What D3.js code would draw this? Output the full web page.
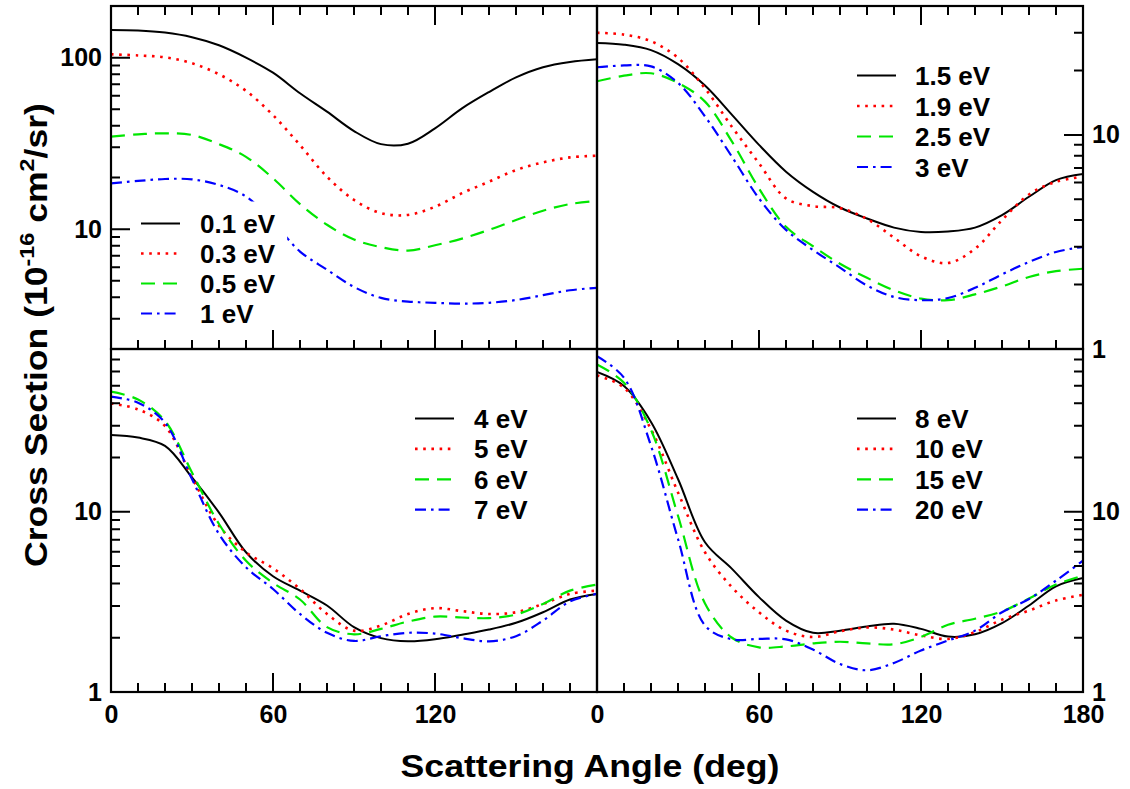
<!DOCTYPE html>
<html>
<head>
<meta charset="utf-8">
<script src="https://cdn.jsdelivr.net/npm/d3@7"></script>
<style>
  html, body { margin: 0; padding: 0; background: #fff; }
  svg { display: block; }
  text { font-family: "Liberation Sans", Arial, Helvetica, sans-serif; font-weight: bold; fill: #000; }
</style>
</head>
<body>
<svg id="chart" width="1130" height="789"></svg>
<script>
// Scattering angles (deg) at which every curve is tabulated
const angles = [0, 10, 20, 30, 40, 50, 60, 70, 80, 90, 100, 110, 120, 130, 140, 150, 160, 170, 180];

// Differential cross sections (10^-16 cm^2/sr)
// Panel a: low energies
const namesA = ["0.1 eV", "0.3 eV", "0.5 eV", "1 eV"];
const cs_0p1 = [145, 144, 140, 131.5, 118, 100, 81.7, 62, 48.4, 37.3, 31.3, 31.5, 38.7, 50.6, 63, 76.7, 87.9, 94.3, 97.8];
const cs_0p3 = [104.6, 103, 100.4, 92.7, 80, 64, 46.2, 30.9, 20.2, 14.8, 12.4, 12.1, 13.5, 16.2, 18.9, 22.1, 24.5, 26.2, 26.8];
const cs_0p5 = [34.6, 35.7, 36.2, 35.4, 31.3, 26.4, 19.8, 14.0, 10.6, 8.7, 7.85, 7.5, 8.05, 8.8, 9.9, 11.3, 12.8, 14.0, 14.6];
const cs_1   = [18.5, 19.1, 19.6, 19.5, 18.1, 15.5, 11.0, 7.4, 5.8, 4.6, 3.97, 3.78, 3.72, 3.68, 3.72, 3.86, 4.12, 4.4, 4.55];

// Panel b
const namesB = ["1.5 eV", "1.9 eV", "2.5 eV", "3 eV"];
const cs_1p5 = [26.9, 26.4, 24.9, 21.4, 17.0, 12.4, 8.98, 6.73, 5.42, 4.58, 4.07, 3.69, 3.52, 3.54, 3.69, 4.22, 5.14, 6.15, 6.57];
const cs_1p9 = [30, 29.4, 27.4, 22.9, 16.5, 10.9, 7.37, 5.05, 4.65, 4.55, 4.05, 3.31, 2.71, 2.52, 2.94, 4.0, 5.27, 6.04, 6.38];
const cs_2p5 = [17.8, 18.9, 19.4, 17.5, 14.3, 9.3, 5.62, 3.72, 3.02, 2.5, 2.15, 1.88, 1.72, 1.69, 1.80, 1.96, 2.17, 2.31, 2.37];
const cs_3   = [20.7, 21.1, 20.9, 17.5, 12.2, 7.9, 5.05, 3.6, 2.9, 2.4, 1.98, 1.75, 1.69, 1.73, 1.93, 2.23, 2.55, 2.84, 3.0];

// Panel c
const namesC = ["4 eV", "5 eV", "6 eV", "7 eV"];
const cs_4 = [26.7, 25.8, 23.2, 15.5, 9.9, 5.96, 4.39, 3.65, 3.02, 2.29, 1.99, 1.91, 1.96, 2.08, 2.22, 2.42, 2.77, 3.26, 3.5];
const cs_5 = [39.9, 37, 29.9, 15.5, 8.37, 5.96, 4.86, 3.73, 2.71, 2.19, 2.34, 2.71, 2.92, 2.81, 2.71, 2.77, 3.08, 3.5, 3.65];
const cs_6 = [46.4, 42, 31.9, 16.5, 8.55, 5.35, 4.03, 3.26, 2.29, 2.09, 2.24, 2.46, 2.62, 2.59, 2.57, 2.69, 3.08, 3.65, 3.94];
const cs_7 = [43.5, 40.3, 31.2, 15.2, 7.52, 4.92, 3.73, 2.71, 2.13, 1.92, 2.04, 2.13, 2.11, 1.99, 1.91, 2.04, 2.49, 3.18, 3.5];

// Panel d
const namesD = ["8 eV", "10 eV", "15 eV", "20 eV"];
const cs_8  = [59.6, 49.8, 31.5, 15.2, 6.77, 4.82, 3.36, 2.49, 2.13, 2.19, 2.31, 2.39, 2.24, 2.03, 2.09, 2.41, 3.02, 3.86, 4.29];
const cs_10 = [57.1, 48.8, 28.7, 12.8, 5.96, 3.81, 2.77, 2.19, 2.02, 2.17, 2.28, 2.22, 2.06, 1.97, 2.15, 2.52, 2.83, 3.22, 3.46];
const cs_15 = [65.7, 52, 28.5, 9.5, 3.1, 2.0, 1.77, 1.79, 1.86, 1.9, 1.86, 1.84, 2.02, 2.36, 2.55, 2.8, 3.3, 3.95, 4.42];
const cs_20 = [73, 55.4, 23.2, 7.06, 2.34, 1.96, 1.97, 1.96, 1.72, 1.43, 1.32, 1.45, 1.70, 1.93, 2.19, 2.77, 3.28, 4.15, 5.35];

// Axis tick values
const xMajor = [0, 60, 120, 180];
const xMinor = [10, 20, 30, 40, 50, 70, 80, 90, 100, 110, 130, 140, 150, 160, 170];
const xLabelsLeft = [0, 60, 120];
const xLabelsRight = [0, 60, 120, 180];

// Line styles, in series order within a panel
const styles = [
  { color: "#000000", width: 2.0, dash: null },
  { color: "#ff0000", width: 2.6, dash: "2.6,5.6" },
  { color: "#00e600", width: 2.2, dash: "14,8" },
  { color: "#0000ff", width: 2.2, dash: "11,5,2.6,5" }
];

const panels = [
  { id: "a", x0: 111, x1: 597, y0: 6, y1: 349, yDomain: [2, 200], ySide: "left",
    yLabels: [10, 100], xLabels: null, topTicks: true,
    names: namesA, series: [cs_0p1, cs_0p3, cs_0p5, cs_1],
    legend: { lineX: 141, textX: 200, row0: 223.5, step: 30 } },
  { id: "b", x0: 597, x1: 1083, y0: 6, y1: 349, yDomain: [1, 40], ySide: "right",
    yLabels: [1, 10], xLabels: null, topTicks: true,
    names: namesB, series: [cs_1p5, cs_1p9, cs_2p5, cs_3],
    legend: { lineX: 857, textX: 915, row0: 75.5, step: 30.5 } },
  { id: "c", x0: 111, x1: 597, y0: 349, y1: 692, yDomain: [1, 80], ySide: "left",
    yLabels: [1, 10], xLabels: xLabelsLeft, topTicks: false,
    names: namesC, series: [cs_4, cs_5, cs_6, cs_7],
    legend: { lineX: 415, textX: 474, row0: 418.5, step: 30.4 } },
  { id: "d", x0: 597, x1: 1083, y0: 349, y1: 692, yDomain: [1, 80], ySide: "right",
    yLabels: [1, 10], xLabels: xLabelsRight, topTicks: false,
    names: namesD, series: [cs_8, cs_10, cs_15, cs_20],
    legend: { lineX: 857, textX: 915, row0: 418.5, step: 30.4 } }
];

const svg = d3.select("#chart");
const defs = svg.append("defs");
const tickFont = 25;
const majorLen = 19, minorLen = 9;

function logTicks(domain) {
  const major = [], minor = [];
  const lo = Math.floor(Math.log10(domain[0])), hi = Math.ceil(Math.log10(domain[1]));
  for (let e = lo; e <= hi; e++) {
    const d = Math.pow(10, e);
    for (let m = 1; m <= 9; m++) {
      const v = +(m * d).toPrecision(6);
      if (v < domain[0] - 1e-9 || v > domain[1] + 1e-9) continue;
      (m === 1 ? major : minor).push(v);
    }
  }
  return { major, minor };
}

// Axis helper: d3.axis places the labels; the inward tick marks are drawn
// as one path per axis from the same scale.
function inwardAxis(parent, axisFn, scale, values, len, orient, x0, y0, padding, fmt) {
  const ax = axisFn(scale).tickValues(values).tickSizeInner(0).tickSizeOuter(0)
    .tickPadding(padding).tickFormat(fmt);
  const g = parent.append("g").attr("transform", `translate(${x0},${y0})`).call(ax);
  g.select(".domain").remove();
  g.selectAll(".tick line").remove();
  g.selectAll(".tick").attr("opacity", null);
  g.selectAll(".tick text").style("font-size", tickFont + "px").attr("fill", "#000");

  const horiz = orient === "left" || orient === "right";
  const dir = (orient === "left" || orient === "top") ? 1 : -1;
  const segs = values.map(v => {
    const p = scale(v);
    return horiz
      ? `M${x0},${p}h${dir * len}`
      : `M${p},${y0}v${dir * len}`;
  }).join("");
  parent.append("path")
    .attr("class", "tick-marks")
    .attr("d", segs)
    .attr("fill", "none")
    .attr("stroke", "#000")
    .attr("stroke-width", 2);
  return g;
}

const layerCurves = svg.append("g");
const layerLegend = svg.append("g");
const layerAxes = svg.append("g");
const noLabel = () => "";

panels.forEach(p => {
  const x = d3.scaleLinear().domain([0, 180]).range([p.x0, p.x1]);
  const y = d3.scaleLog().domain(p.yDomain).range([p.y1, p.y0]);

  // clip region for the curves
  const clipId = "clip-" + p.id;
  defs.append("clipPath").attr("id", clipId)
    .append("rect").attr("x", p.x0).attr("y", p.y0)
    .attr("width", p.x1 - p.x0).attr("height", p.y1 - p.y0);

  const line = d3.line()
    .x(d => x(d[0]))
    .y(d => y(d[1]))
    .curve(d3.curveCatmullRom.alpha(0.5));

  const curves = layerCurves.append("g").attr("clip-path", `url(#${clipId})`);
  p.series.forEach((vals, i) => {
    const st = styles[i];
    curves.append("path")
      .datum(angles.map((a, k) => [a, vals[k]]))
      .attr("d", line)
      .attr("fill", "none")
      .attr("stroke", st.color)
      .attr("stroke-width", st.width)
      .attr("stroke-dasharray", st.dash)
      .attr("stroke-linejoin", "round");
  });

  // legend with a white backing box
  const lg = layerLegend.append("g").attr("class", "legend");
  const bg = lg.append("rect").attr("fill", "#fff");
  let maxW = 0;
  p.names.forEach((name, i) => {
    const st = styles[i];
    const cy = p.legend.row0 + i * p.legend.step;
    lg.append("line")
      .attr("x1", p.legend.lineX).attr("x2", p.legend.lineX + 39)
      .attr("y1", cy).attr("y2", cy)
      .attr("stroke", st.color).attr("stroke-width", st.width)
      .attr("stroke-dasharray", st.dash);
    const t = lg.append("text")
      .attr("x", p.legend.textX).attr("y", cy + 9.5)
      .style("font-size", "26px")
      .text(name);
    maxW = Math.max(maxW, t.node().getComputedTextLength());
  });
  bg.attr("x", p.legend.lineX - 11)
    .attr("y", p.legend.row0 - 22)
    .attr("width", p.legend.textX + maxW + 12 - (p.legend.lineX - 11))
    .attr("height", 3 * p.legend.step + 40);

  const g = layerAxes.append("g").attr("class", "axes-" + p.id);

  // y axis (log) on the outer side
  const yt = logTicks(p.yDomain);
  const left = p.ySide === "left";
  const yAxisFn = left ? d3.axisLeft : d3.axisRight;
  const yx = left ? p.x0 : p.x1;
  inwardAxis(g, yAxisFn, y, yt.minor, minorLen, p.ySide, yx, 0, 9, noLabel);
  inwardAxis(g, yAxisFn, y, yt.major, majorLen, p.ySide, yx, 0, 9,
    v => p.yLabels.includes(v) ? d3.format("d")(v) : "");

  // x ticks on the bottom edge
  inwardAxis(g, d3.axisBottom, x, xMinor, minorLen, "bottom", 0, p.y1, 13, noLabel);
  inwardAxis(g, d3.axisBottom, x, xMajor, majorLen, "bottom", 0, p.y1, 13,
    v => p.xLabels && p.xLabels.includes(v) ? d3.format("d")(v) : "");

  // x ticks on the top edge
  if (p.topTicks) {
    inwardAxis(g, d3.axisTop, x, xMinor, minorLen, "top", 0, p.y0, 0, noLabel);
    inwardAxis(g, d3.axisTop, x, xMajor, majorLen, "top", 0, p.y0, 0, noLabel);
  }

  // frame
  g.append("rect")
    .attr("x", p.x0).attr("y", p.y0)
    .attr("width", p.x1 - p.x0).attr("height", p.y1 - p.y0)
    .attr("fill", "none").attr("stroke", "#000").attr("stroke-width", 2.2);
});

// Axis titles, stretched horizontally to the printed width
function fitTitle(sel, targetW, baseTransform) {
  const w = sel.node().getComputedTextLength();
  sel.attr("transform", `${baseTransform} scale(${targetW / w},1)`);
}

const xTitle = svg.append("text")
  .attr("x", 0).attr("y", 0)
  .attr("text-anchor", "middle")
  .style("font-size", "32px")
  .text("Scattering Angle (deg)");
fitTitle(xTitle, 379, "translate(590,777)");

const yTitle = svg.append("text")
  .attr("x", 0).attr("y", 0)
  .attr("text-anchor", "middle")
  .style("font-size", "32px");
yTitle.append("tspan").text("Cross Section (10");
yTitle.append("tspan").attr("dy", -13).style("font-size", "21px").text("-16");
yTitle.append("tspan").attr("dy", 13).text(" cm");
yTitle.append("tspan").attr("dy", -13).style("font-size", "21px").text("2");
yTitle.append("tspan").attr("dy", 13).text("/sr)");
fitTitle(yTitle, 464, "translate(47,335) rotate(-90)");
</script>
</body>
</html>
